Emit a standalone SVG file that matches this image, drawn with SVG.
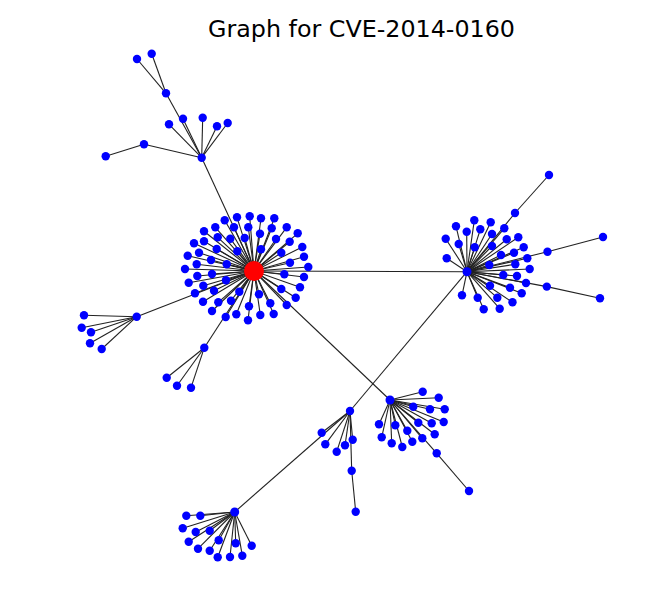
<svg xmlns="http://www.w3.org/2000/svg" width="645" height="610" viewBox="0 0 645 610">
<style>
.e{stroke:#222;stroke-width:1.1}
.n{fill:#0000ff}
.c{fill:#ff0000}
.t{font-family:"DejaVu Sans",sans-serif;font-size:23px;fill:#000}
</style>
<rect width="645" height="610" fill="#fff"/>
<text class="t" x="361.5" y="37" text-anchor="middle" textLength="307" lengthAdjust="spacingAndGlyphs">Graph for CVE-2014-0160</text>
<g id="edges">
<line class="e" x1="254" y1="271" x2="237" y2="217.3"/>
<line class="e" x1="254" y1="271" x2="249.7" y2="216.3"/>
<line class="e" x1="254" y1="271" x2="261" y2="218.3"/>
<line class="e" x1="254" y1="271" x2="274.3" y2="218.3"/>
<line class="e" x1="254" y1="271" x2="224.7" y2="220.3"/>
<line class="e" x1="254" y1="271" x2="215.3" y2="227.3"/>
<line class="e" x1="254" y1="271" x2="234" y2="227.3"/>
<line class="e" x1="254" y1="271" x2="248.3" y2="227.3"/>
<line class="e" x1="254" y1="271" x2="271.7" y2="228.3"/>
<line class="e" x1="254" y1="271" x2="286.7" y2="227.3"/>
<line class="e" x1="254" y1="271" x2="204" y2="231.3"/>
<line class="e" x1="254" y1="271" x2="297.7" y2="233.3"/>
<line class="e" x1="254" y1="271" x2="217.7" y2="237.3"/>
<line class="e" x1="254" y1="271" x2="230.3" y2="238.7"/>
<line class="e" x1="254" y1="271" x2="244.7" y2="238"/>
<line class="e" x1="254" y1="271" x2="260" y2="233.7"/>
<line class="e" x1="254" y1="271" x2="276" y2="239"/>
<line class="e" x1="254" y1="271" x2="289.7" y2="241.7"/>
<line class="e" x1="254" y1="271" x2="194" y2="243.3"/>
<line class="e" x1="254" y1="271" x2="204" y2="241.3"/>
<line class="e" x1="254" y1="271" x2="216.7" y2="249"/>
<line class="e" x1="254" y1="271" x2="237.3" y2="251.3"/>
<line class="e" x1="254" y1="271" x2="261" y2="249.3"/>
<line class="e" x1="254" y1="271" x2="281.3" y2="252.7"/>
<line class="e" x1="254" y1="271" x2="302.3" y2="247"/>
<line class="e" x1="254" y1="271" x2="187.7" y2="255.7"/>
<line class="e" x1="254" y1="271" x2="199" y2="252.7"/>
<line class="e" x1="254" y1="271" x2="211" y2="260"/>
<line class="e" x1="254" y1="271" x2="226.7" y2="264.3"/>
<line class="e" x1="254" y1="271" x2="290" y2="262.7"/>
<line class="e" x1="254" y1="271" x2="304" y2="256.7"/>
<line class="e" x1="254" y1="271" x2="185" y2="269"/>
<line class="e" x1="254" y1="271" x2="196.7" y2="264.3"/>
<line class="e" x1="254" y1="271" x2="308.3" y2="267"/>
<line class="e" x1="254" y1="271" x2="197.3" y2="276"/>
<line class="e" x1="254" y1="271" x2="212" y2="274"/>
<line class="e" x1="254" y1="271" x2="226" y2="280.3"/>
<line class="e" x1="254" y1="271" x2="284.3" y2="274.3"/>
<line class="e" x1="254" y1="271" x2="304" y2="277"/>
<line class="e" x1="254" y1="271" x2="188.7" y2="282.7"/>
<line class="e" x1="254" y1="271" x2="203.3" y2="285.7"/>
<line class="e" x1="254" y1="271" x2="214" y2="290.7"/>
<line class="e" x1="254" y1="271" x2="239.3" y2="291.7"/>
<line class="e" x1="254" y1="271" x2="259" y2="294.3"/>
<line class="e" x1="254" y1="271" x2="281.3" y2="289"/>
<line class="e" x1="254" y1="271" x2="300" y2="287.3"/>
<line class="e" x1="254" y1="271" x2="195" y2="293.3"/>
<line class="e" x1="254" y1="271" x2="203" y2="301.7"/>
<line class="e" x1="254" y1="271" x2="218.3" y2="302.3"/>
<line class="e" x1="254" y1="271" x2="231" y2="300.7"/>
<line class="e" x1="254" y1="271" x2="270.3" y2="303.3"/>
<line class="e" x1="254" y1="271" x2="295.7" y2="297.7"/>
<line class="e" x1="254" y1="271" x2="212" y2="311"/>
<line class="e" x1="254" y1="271" x2="236.3" y2="314.3"/>
<line class="e" x1="254" y1="271" x2="249" y2="306.3"/>
<line class="e" x1="254" y1="271" x2="260.3" y2="315"/>
<line class="e" x1="254" y1="271" x2="273.7" y2="314"/>
<line class="e" x1="254" y1="271" x2="286.7" y2="305"/>
<line class="e" x1="254" y1="271" x2="225.7" y2="317"/>
<line class="e" x1="254" y1="271" x2="248" y2="320.3"/>
<line class="e" x1="254" y1="271" x2="201.7" y2="157.7"/>
<line class="e" x1="254" y1="271" x2="136.7" y2="316.7"/>
<line class="e" x1="254" y1="271" x2="204.3" y2="347.7"/>
<line class="e" x1="254" y1="271" x2="467" y2="271.7"/>
<line class="e" x1="254" y1="271" x2="390" y2="400"/>
<line class="e" x1="467" y1="271.7" x2="350" y2="411"/>
<line class="e" x1="350" y1="411" x2="234.7" y2="512"/>
<line class="e" x1="467" y1="271.7" x2="515" y2="213"/>
<line class="e" x1="467" y1="271.7" x2="474.3" y2="220.3"/>
<line class="e" x1="467" y1="271.7" x2="490.7" y2="222.3"/>
<line class="e" x1="467" y1="271.7" x2="456" y2="226.3"/>
<line class="e" x1="467" y1="271.7" x2="480.3" y2="229.3"/>
<line class="e" x1="467" y1="271.7" x2="504.3" y2="228.3"/>
<line class="e" x1="467" y1="271.7" x2="466.7" y2="231.7"/>
<line class="e" x1="467" y1="271.7" x2="492" y2="234"/>
<line class="e" x1="467" y1="271.7" x2="445.7" y2="238.7"/>
<line class="e" x1="467" y1="271.7" x2="506.7" y2="239.3"/>
<line class="e" x1="467" y1="271.7" x2="518.3" y2="237.3"/>
<line class="e" x1="467" y1="271.7" x2="458.7" y2="244"/>
<line class="e" x1="467" y1="271.7" x2="474.7" y2="247.3"/>
<line class="e" x1="467" y1="271.7" x2="492" y2="246"/>
<line class="e" x1="467" y1="271.7" x2="523.7" y2="247.3"/>
<line class="e" x1="467" y1="271.7" x2="501" y2="255"/>
<line class="e" x1="467" y1="271.7" x2="514" y2="252.7"/>
<line class="e" x1="467" y1="271.7" x2="547.5" y2="251.7"/>
<line class="e" x1="467" y1="271.7" x2="446.7" y2="258.3"/>
<line class="e" x1="467" y1="271.7" x2="527.3" y2="258.3"/>
<line class="e" x1="467" y1="271.7" x2="489.3" y2="265"/>
<line class="e" x1="467" y1="271.7" x2="515.3" y2="264.3"/>
<line class="e" x1="467" y1="271.7" x2="529.7" y2="269"/>
<line class="e" x1="467" y1="271.7" x2="503.3" y2="275"/>
<line class="e" x1="467" y1="271.7" x2="517" y2="276"/>
<line class="e" x1="467" y1="271.7" x2="526" y2="283"/>
<line class="e" x1="467" y1="271.7" x2="490" y2="285.7"/>
<line class="e" x1="467" y1="271.7" x2="510" y2="287.7"/>
<line class="e" x1="467" y1="271.7" x2="546.8" y2="286.6"/>
<line class="e" x1="467" y1="271.7" x2="521.7" y2="293.3"/>
<line class="e" x1="467" y1="271.7" x2="462" y2="295.3"/>
<line class="e" x1="467" y1="271.7" x2="477.7" y2="297.7"/>
<line class="e" x1="467" y1="271.7" x2="497.3" y2="297.7"/>
<line class="e" x1="467" y1="271.7" x2="512.5" y2="302.3"/>
<line class="e" x1="467" y1="271.7" x2="483.7" y2="309.3"/>
<line class="e" x1="467" y1="271.7" x2="499.7" y2="308.7"/>
<line class="e" x1="515" y1="213" x2="549" y2="175"/>
<line class="e" x1="547.5" y1="251.7" x2="603" y2="237"/>
<line class="e" x1="546.8" y1="286.6" x2="600" y2="298.3"/>
<line class="e" x1="390" y1="400" x2="422.7" y2="391.7"/>
<line class="e" x1="390" y1="400" x2="438.7" y2="397.7"/>
<line class="e" x1="390" y1="400" x2="413.3" y2="406.7"/>
<line class="e" x1="390" y1="400" x2="430" y2="409.3"/>
<line class="e" x1="390" y1="400" x2="444.7" y2="409.3"/>
<line class="e" x1="390" y1="400" x2="379" y2="424.3"/>
<line class="e" x1="390" y1="400" x2="395.3" y2="425.3"/>
<line class="e" x1="390" y1="400" x2="418.3" y2="422.7"/>
<line class="e" x1="390" y1="400" x2="431.7" y2="423.3"/>
<line class="e" x1="390" y1="400" x2="443.7" y2="422"/>
<line class="e" x1="390" y1="400" x2="407.3" y2="430.7"/>
<line class="e" x1="390" y1="400" x2="381.7" y2="437.3"/>
<line class="e" x1="390" y1="400" x2="434.7" y2="434.3"/>
<line class="e" x1="390" y1="400" x2="391.7" y2="443.3"/>
<line class="e" x1="390" y1="400" x2="412.3" y2="441.7"/>
<line class="e" x1="390" y1="400" x2="422.3" y2="438.3"/>
<line class="e" x1="390" y1="400" x2="402.3" y2="447"/>
<line class="e" x1="390" y1="400" x2="436.7" y2="453.3"/>
<line class="e" x1="436.7" y1="453.3" x2="469" y2="491"/>
<line class="e" x1="234.7" y1="512" x2="186.3" y2="515.7"/>
<line class="e" x1="234.7" y1="512" x2="200.3" y2="515.7"/>
<line class="e" x1="234.7" y1="512" x2="182.7" y2="528.3"/>
<line class="e" x1="234.7" y1="512" x2="195.7" y2="532"/>
<line class="e" x1="234.7" y1="512" x2="209.7" y2="530.7"/>
<line class="e" x1="234.7" y1="512" x2="218.7" y2="540.3"/>
<line class="e" x1="234.7" y1="512" x2="188.7" y2="541.7"/>
<line class="e" x1="234.7" y1="512" x2="235.7" y2="543.3"/>
<line class="e" x1="234.7" y1="512" x2="251.7" y2="545.7"/>
<line class="e" x1="234.7" y1="512" x2="198" y2="548.7"/>
<line class="e" x1="234.7" y1="512" x2="209.7" y2="550.7"/>
<line class="e" x1="234.7" y1="512" x2="217.7" y2="557.3"/>
<line class="e" x1="234.7" y1="512" x2="230" y2="557"/>
<line class="e" x1="234.7" y1="512" x2="242.3" y2="555.7"/>
<line class="e" x1="350" y1="411" x2="321.7" y2="432.7"/>
<line class="e" x1="350" y1="411" x2="325.3" y2="444.3"/>
<line class="e" x1="350" y1="411" x2="336.7" y2="451.7"/>
<line class="e" x1="350" y1="411" x2="345" y2="445.3"/>
<line class="e" x1="350" y1="411" x2="352.7" y2="439.7"/>
<line class="e" x1="350" y1="411" x2="351.7" y2="470.7"/>
<line class="e" x1="351.7" y1="470.7" x2="355.7" y2="511.7"/>
<line class="e" x1="201.7" y1="157.7" x2="166" y2="93.3"/>
<line class="e" x1="166" y1="93.3" x2="137" y2="59"/>
<line class="e" x1="166" y1="93.3" x2="151.7" y2="53.7"/>
<line class="e" x1="201.7" y1="157.7" x2="169" y2="124.3"/>
<line class="e" x1="201.7" y1="157.7" x2="183" y2="118.7"/>
<line class="e" x1="201.7" y1="157.7" x2="202.7" y2="117.7"/>
<line class="e" x1="201.7" y1="157.7" x2="217" y2="126.3"/>
<line class="e" x1="201.7" y1="157.7" x2="227.7" y2="123"/>
<line class="e" x1="201.7" y1="157.7" x2="144" y2="144.3"/>
<line class="e" x1="144" y1="144.3" x2="105.7" y2="156.3"/>
<line class="e" x1="136.7" y1="316.7" x2="84" y2="315.3"/>
<line class="e" x1="136.7" y1="316.7" x2="81.7" y2="327.7"/>
<line class="e" x1="136.7" y1="316.7" x2="91" y2="332.3"/>
<line class="e" x1="136.7" y1="316.7" x2="90" y2="343.3"/>
<line class="e" x1="136.7" y1="316.7" x2="101.7" y2="349"/>
<line class="e" x1="204.3" y1="347.7" x2="166.7" y2="377.7"/>
<line class="e" x1="204.3" y1="347.7" x2="177" y2="385.7"/>
<line class="e" x1="204.3" y1="347.7" x2="191" y2="387.7"/>
</g>
<g id="cluster-main" class="n">
<g id="m1"><circle cx="237" cy="217.3" r="4.2"/></g>
<g id="m2"><circle cx="249.7" cy="216.3" r="4.2"/></g>
<g id="m3"><circle cx="261" cy="218.3" r="4.2"/></g>
<g id="m4"><circle cx="274.3" cy="218.3" r="4.2"/></g>
<g id="m5"><circle cx="224.7" cy="220.3" r="4.2"/></g>
<g id="m6"><circle cx="215.3" cy="227.3" r="4.2"/></g>
<g id="m7"><circle cx="234" cy="227.3" r="4.2"/></g>
<g id="m8"><circle cx="248.3" cy="227.3" r="4.2"/></g>
<g id="m9"><circle cx="271.7" cy="228.3" r="4.2"/></g>
<g id="m10"><circle cx="286.7" cy="227.3" r="4.2"/></g>
<g id="m11"><circle cx="204" cy="231.3" r="4.2"/></g>
<g id="m12"><circle cx="297.7" cy="233.3" r="4.2"/></g>
<g id="m13"><circle cx="217.7" cy="237.3" r="4.2"/></g>
<g id="m14"><circle cx="230.3" cy="238.7" r="4.2"/></g>
<g id="m15"><circle cx="244.7" cy="238" r="4.2"/></g>
<g id="m16"><circle cx="260" cy="233.7" r="4.2"/></g>
<g id="m17"><circle cx="276" cy="239" r="4.2"/></g>
<g id="m18"><circle cx="289.7" cy="241.7" r="4.2"/></g>
<g id="m19"><circle cx="194" cy="243.3" r="4.2"/></g>
<g id="m20"><circle cx="204" cy="241.3" r="4.2"/></g>
<g id="m21"><circle cx="216.7" cy="249" r="4.2"/></g>
<g id="m22"><circle cx="237.3" cy="251.3" r="4.2"/></g>
<g id="m23"><circle cx="261" cy="249.3" r="4.2"/></g>
<g id="m24"><circle cx="281.3" cy="252.7" r="4.2"/></g>
<g id="m25"><circle cx="302.3" cy="247" r="4.2"/></g>
<g id="m26"><circle cx="187.7" cy="255.7" r="4.2"/></g>
<g id="m27"><circle cx="199" cy="252.7" r="4.2"/></g>
<g id="m28"><circle cx="211" cy="260" r="4.2"/></g>
<g id="m29"><circle cx="226.7" cy="264.3" r="4.2"/></g>
<g id="m30"><circle cx="290" cy="262.7" r="4.2"/></g>
<g id="m31"><circle cx="304" cy="256.7" r="4.2"/></g>
<g id="m32"><circle cx="185" cy="269" r="4.2"/></g>
<g id="m33"><circle cx="196.7" cy="264.3" r="4.2"/></g>
<g id="m34"><circle cx="308.3" cy="267" r="4.2"/></g>
<g id="m35"><circle cx="197.3" cy="276" r="4.2"/></g>
<g id="m36"><circle cx="212" cy="274" r="4.2"/></g>
<g id="m37"><circle cx="226" cy="280.3" r="4.2"/></g>
<g id="m38"><circle cx="284.3" cy="274.3" r="4.2"/></g>
<g id="m39"><circle cx="304" cy="277" r="4.2"/></g>
<g id="m40"><circle cx="188.7" cy="282.7" r="4.2"/></g>
<g id="m41"><circle cx="203.3" cy="285.7" r="4.2"/></g>
<g id="m42"><circle cx="214" cy="290.7" r="4.2"/></g>
<g id="m43"><circle cx="239.3" cy="291.7" r="4.2"/></g>
<g id="m44"><circle cx="259" cy="294.3" r="4.2"/></g>
<g id="m45"><circle cx="281.3" cy="289" r="4.2"/></g>
<g id="m46"><circle cx="300" cy="287.3" r="4.2"/></g>
<g id="m47"><circle cx="195" cy="293.3" r="4.2"/></g>
<g id="m48"><circle cx="203" cy="301.7" r="4.2"/></g>
<g id="m49"><circle cx="218.3" cy="302.3" r="4.2"/></g>
<g id="m50"><circle cx="231" cy="300.7" r="4.2"/></g>
<g id="m51"><circle cx="270.3" cy="303.3" r="4.2"/></g>
<g id="m52"><circle cx="295.7" cy="297.7" r="4.2"/></g>
<g id="m53"><circle cx="212" cy="311" r="4.2"/></g>
<g id="m54"><circle cx="236.3" cy="314.3" r="4.2"/></g>
<g id="m55"><circle cx="249" cy="306.3" r="4.2"/></g>
<g id="m56"><circle cx="260.3" cy="315" r="4.2"/></g>
<g id="m57"><circle cx="273.7" cy="314" r="4.2"/></g>
<g id="m58"><circle cx="286.7" cy="305" r="4.2"/></g>
<g id="m59"><circle cx="225.7" cy="317" r="4.2"/></g>
<g id="m60"><circle cx="248" cy="320.3" r="4.2"/></g>
</g>
<g id="cluster-right" class="n">
<g id="r0"><circle cx="467" cy="271.7" r="4.5"/></g>
<g id="r1"><circle cx="515" cy="213" r="4.2"/></g>
<g id="r2"><circle cx="474.3" cy="220.3" r="4.2"/></g>
<g id="r3"><circle cx="490.7" cy="222.3" r="4.2"/></g>
<g id="r4"><circle cx="456" cy="226.3" r="4.2"/></g>
<g id="r5"><circle cx="480.3" cy="229.3" r="4.2"/></g>
<g id="r6"><circle cx="504.3" cy="228.3" r="4.2"/></g>
<g id="r7"><circle cx="466.7" cy="231.7" r="4.2"/></g>
<g id="r8"><circle cx="492" cy="234" r="4.2"/></g>
<g id="r9"><circle cx="445.7" cy="238.7" r="4.2"/></g>
<g id="r10"><circle cx="506.7" cy="239.3" r="4.2"/></g>
<g id="r11"><circle cx="518.3" cy="237.3" r="4.2"/></g>
<g id="r12"><circle cx="458.7" cy="244" r="4.2"/></g>
<g id="r13"><circle cx="474.7" cy="247.3" r="4.2"/></g>
<g id="r14"><circle cx="492" cy="246" r="4.2"/></g>
<g id="r15"><circle cx="523.7" cy="247.3" r="4.2"/></g>
<g id="r16"><circle cx="501" cy="255" r="4.2"/></g>
<g id="r17"><circle cx="514" cy="252.7" r="4.2"/></g>
<g id="r18"><circle cx="547.5" cy="251.7" r="4.2"/></g>
<g id="r19"><circle cx="446.7" cy="258.3" r="4.2"/></g>
<g id="r20"><circle cx="527.3" cy="258.3" r="4.2"/></g>
<g id="r21"><circle cx="489.3" cy="265" r="4.2"/></g>
<g id="r22"><circle cx="515.3" cy="264.3" r="4.2"/></g>
<g id="r23"><circle cx="529.7" cy="269" r="4.2"/></g>
<g id="r24"><circle cx="503.3" cy="275" r="4.2"/></g>
<g id="r25"><circle cx="517" cy="276" r="4.2"/></g>
<g id="r26"><circle cx="526" cy="283" r="4.2"/></g>
<g id="r27"><circle cx="490" cy="285.7" r="4.2"/></g>
<g id="r28"><circle cx="510" cy="287.7" r="4.2"/></g>
<g id="r29"><circle cx="546.8" cy="286.6" r="4.2"/></g>
<g id="r30"><circle cx="521.7" cy="293.3" r="4.2"/></g>
<g id="r31"><circle cx="462" cy="295.3" r="4.2"/></g>
<g id="r32"><circle cx="477.7" cy="297.7" r="4.2"/></g>
<g id="r33"><circle cx="497.3" cy="297.7" r="4.2"/></g>
<g id="r34"><circle cx="512.5" cy="302.3" r="4.2"/></g>
<g id="r35"><circle cx="483.7" cy="309.3" r="4.2"/></g>
<g id="r36"><circle cx="499.7" cy="308.7" r="4.2"/></g>
<g id="r37"><circle cx="549" cy="175" r="4.2"/></g>
<g id="r38"><circle cx="603" cy="237" r="4.2"/></g>
<g id="r39"><circle cx="600" cy="298.3" r="4.2"/></g>
</g>
<g id="cluster-mid" class="n">
<g id="d0"><circle cx="390" cy="400" r="4.5"/></g>
<g id="d1"><circle cx="422.7" cy="391.7" r="4.2"/></g>
<g id="d2"><circle cx="438.7" cy="397.7" r="4.2"/></g>
<g id="d3"><circle cx="413.3" cy="406.7" r="4.2"/></g>
<g id="d4"><circle cx="430" cy="409.3" r="4.2"/></g>
<g id="d5"><circle cx="444.7" cy="409.3" r="4.2"/></g>
<g id="d6"><circle cx="379" cy="424.3" r="4.2"/></g>
<g id="d7"><circle cx="395.3" cy="425.3" r="4.2"/></g>
<g id="d8"><circle cx="418.3" cy="422.7" r="4.2"/></g>
<g id="d9"><circle cx="431.7" cy="423.3" r="4.2"/></g>
<g id="d10"><circle cx="443.7" cy="422" r="4.2"/></g>
<g id="d11"><circle cx="407.3" cy="430.7" r="4.2"/></g>
<g id="d12"><circle cx="381.7" cy="437.3" r="4.2"/></g>
<g id="d13"><circle cx="434.7" cy="434.3" r="4.2"/></g>
<g id="d14"><circle cx="391.7" cy="443.3" r="4.2"/></g>
<g id="d15"><circle cx="412.3" cy="441.7" r="4.2"/></g>
<g id="d16"><circle cx="422.3" cy="438.3" r="4.2"/></g>
<g id="d17"><circle cx="402.3" cy="447" r="4.2"/></g>
<g id="d18"><circle cx="436.7" cy="453.3" r="4.2"/></g>
<g id="d19"><circle cx="469" cy="491" r="4.2"/></g>
</g>
<g id="cluster-bottom" class="n">
<g id="b0"><circle cx="234.7" cy="512" r="4.5"/></g>
<g id="b1"><circle cx="186.3" cy="515.7" r="4.2"/></g>
<g id="b2"><circle cx="200.3" cy="515.7" r="4.2"/></g>
<g id="b3"><circle cx="182.7" cy="528.3" r="4.2"/></g>
<g id="b4"><circle cx="195.7" cy="532" r="4.2"/></g>
<g id="b5"><circle cx="209.7" cy="530.7" r="4.2"/></g>
<g id="b6"><circle cx="218.7" cy="540.3" r="4.2"/></g>
<g id="b7"><circle cx="188.7" cy="541.7" r="4.2"/></g>
<g id="b8"><circle cx="235.7" cy="543.3" r="4.2"/></g>
<g id="b9"><circle cx="251.7" cy="545.7" r="4.2"/></g>
<g id="b10"><circle cx="198" cy="548.7" r="4.2"/></g>
<g id="b11"><circle cx="209.7" cy="550.7" r="4.2"/></g>
<g id="b12"><circle cx="217.7" cy="557.3" r="4.2"/></g>
<g id="b13"><circle cx="230" cy="557" r="4.2"/></g>
<g id="b14"><circle cx="242.3" cy="555.7" r="4.2"/></g>
</g>
<g id="cluster-s" class="n">
<g id="s0"><circle cx="350" cy="411" r="4.2"/></g>
<g id="s1"><circle cx="321.7" cy="432.7" r="4.2"/></g>
<g id="s2"><circle cx="325.3" cy="444.3" r="4.2"/></g>
<g id="s3"><circle cx="336.7" cy="451.7" r="4.2"/></g>
<g id="s4"><circle cx="345" cy="445.3" r="4.2"/></g>
<g id="s5"><circle cx="352.7" cy="439.7" r="4.2"/></g>
<g id="s6"><circle cx="351.7" cy="470.7" r="4.2"/></g>
<g id="s7"><circle cx="355.7" cy="511.7" r="4.2"/></g>
</g>
<g id="cluster-top" class="n">
<g id="t0"><circle cx="201.7" cy="157.7" r="4.2"/></g>
<g id="t1"><circle cx="166" cy="93.3" r="4.2"/></g>
<g id="t2"><circle cx="137" cy="59" r="4.2"/></g>
<g id="t3"><circle cx="151.7" cy="53.7" r="4.2"/></g>
<g id="t4"><circle cx="169" cy="124.3" r="4.2"/></g>
<g id="t5"><circle cx="183" cy="118.7" r="4.2"/></g>
<g id="t6"><circle cx="202.7" cy="117.7" r="4.2"/></g>
<g id="t7"><circle cx="217" cy="126.3" r="4.2"/></g>
<g id="t8"><circle cx="227.7" cy="123" r="4.2"/></g>
<g id="t9"><circle cx="144" cy="144.3" r="4.2"/></g>
<g id="t10"><circle cx="105.7" cy="156.3" r="4.2"/></g>
</g>
<g id="cluster-left" class="n">
<g id="l0"><circle cx="136.7" cy="316.7" r="4.2"/></g>
<g id="l1"><circle cx="84" cy="315.3" r="4.2"/></g>
<g id="l2"><circle cx="81.7" cy="327.7" r="4.2"/></g>
<g id="l3"><circle cx="91" cy="332.3" r="4.2"/></g>
<g id="l4"><circle cx="90" cy="343.3" r="4.2"/></g>
<g id="l5"><circle cx="101.7" cy="349" r="4.2"/></g>
<g id="k0"><circle cx="204.3" cy="347.7" r="4.2"/></g>
<g id="k1"><circle cx="166.7" cy="377.7" r="4.2"/></g>
<g id="k2"><circle cx="177" cy="385.7" r="4.2"/></g>
<g id="k3"><circle cx="191" cy="387.7" r="4.2"/></g>
</g>
<g id="center"><circle class="c" cx="254" cy="271" r="10"/></g>
</svg>
